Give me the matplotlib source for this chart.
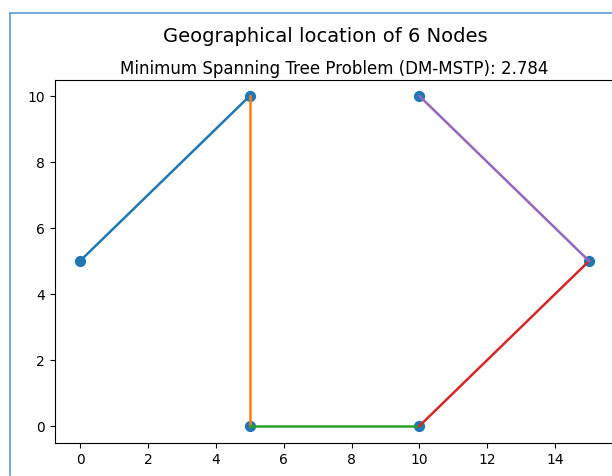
import matplotlib
matplotlib.use("Agg")
import matplotlib.pyplot as plt
from matplotlib.lines import Line2D

# Node coordinates
node_x = [0, 5, 5, 10, 10, 15]
node_y = [5, 10, 0, 0, 10, 5]

# Tree edges (pairs of node indices), in drawing order
edges = [(0, 1), (1, 2), (2, 3), (3, 5), (4, 5)]

suptitle = "Geographical location of 6 Nodes"
title = "Minimum Spanning Tree Problem (DM-MSTP): 2.784"

W, H = 612, 477
fig = plt.figure(figsize=(W / 100, H / 100), dpi=100)
ax = fig.add_axes([54.6 / W, 1 - 443.5 / H, (614.5 - 54.6) / W, (443.5 - 80.5) / H])

ax.scatter(node_x, node_y, s=50)
for a, b in edges:
    ax.plot([node_x[a], node_x[b]], [node_y[a], node_y[b]], lw=1.8)

ax.set_xlim(-0.75, 15.75)
ax.set_ylim(-0.5, 10.5)
ax.set_xticks([0, 2, 4, 6, 8, 10, 12, 14])
ax.set_yticks([0, 2, 4, 6, 8, 10])
# screenshot is cropped before the right spine
ax.spines["right"].set_visible(False)
ax.set_title(title, fontsize=12, pad=5)
fig.text(325 / W, 1 - 37 / H, suptitle, ha="center", va="center", fontsize=14)

# notebook cell border
fig.add_artist(Line2D([10 / W, 10 / W], [0.002, 1 - 14 / H], color="#5a9bd8", lw=1.2))
fig.add_artist(Line2D([10 / W, 1], [1 - 14 / H, 1 - 14 / H], color="#5a9bd8", lw=1.2))

fig.savefig("out.png", dpi=100)
